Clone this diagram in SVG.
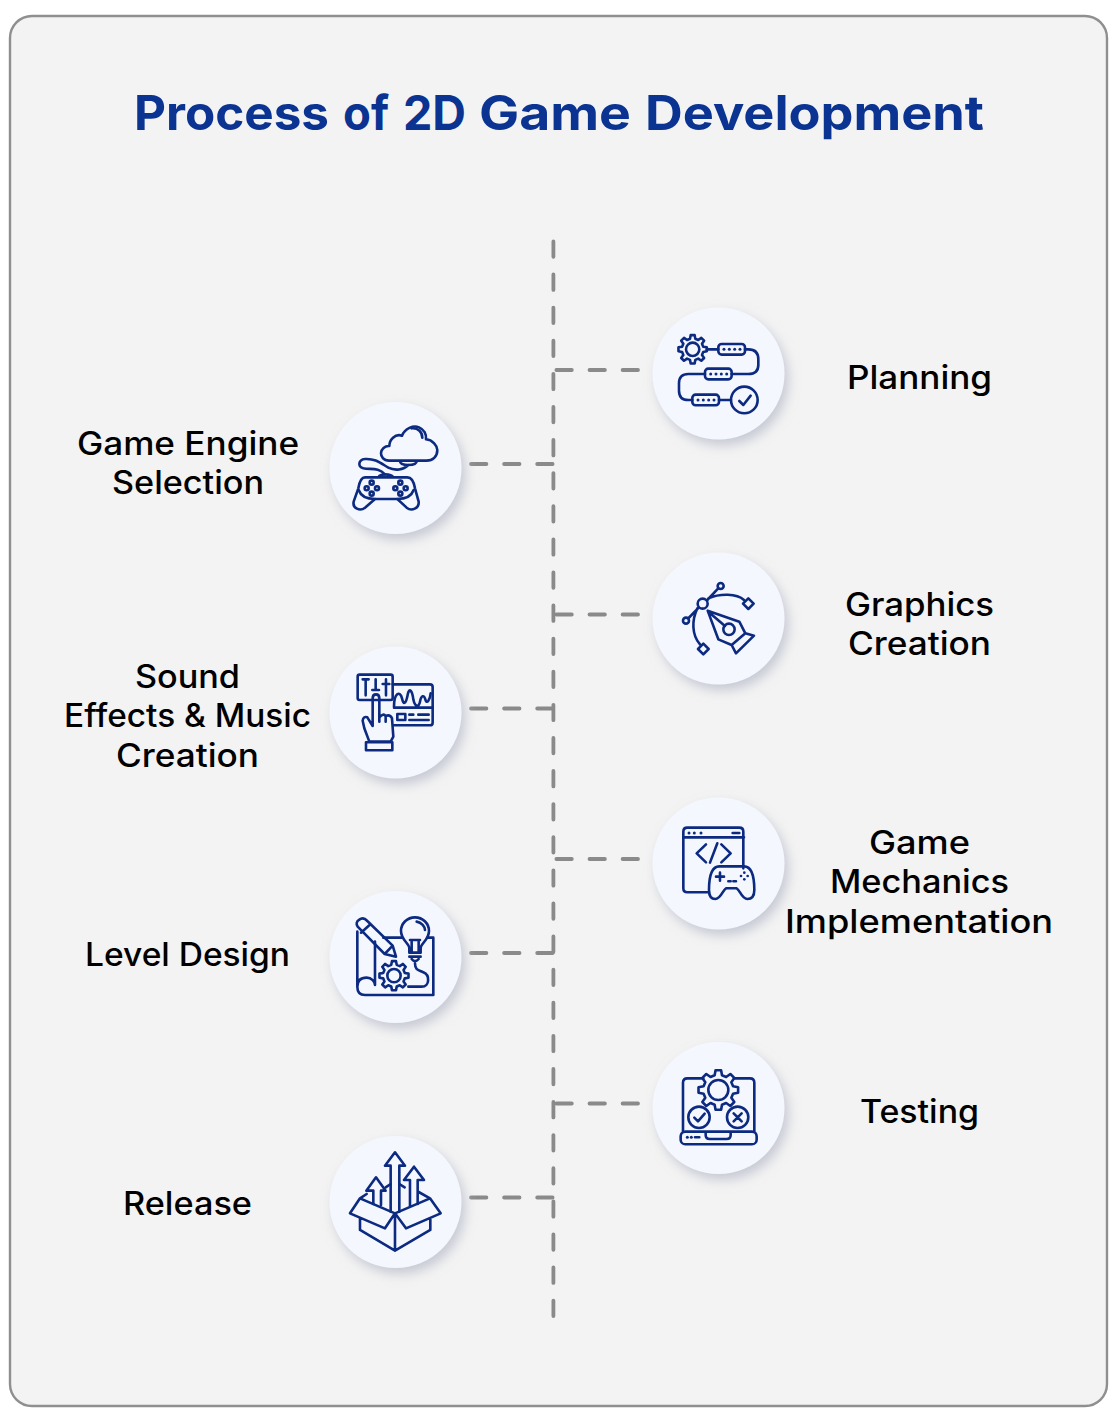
<svg xmlns="http://www.w3.org/2000/svg" width="1117" height="1421" viewBox="0 0 1117 1421">
<style>
.card{fill:#f3f3f3;stroke:#8f8f8f;stroke-width:2.4}
.title{font:700 48px Inter,"Liberation Sans",sans-serif;fill:#0b3391;text-anchor:start}
.lb{font:500 32px Inter,"Liberation Sans",sans-serif;fill:#000}
.disc{fill:#f5f7ff;filter:url(#sh)}
.ic{fill:none;stroke:#0b2a80;stroke-width:2.6;stroke-linecap:round;stroke-linejoin:round}
.ic *,.g{vector-effect:non-scaling-stroke}
.dot{fill:#0b2a80;stroke:none}
#connectors path{fill:none;stroke:#8a8a8a;stroke-width:3.8;stroke-linecap:round;stroke-dasharray:15.4 17.7}
</style>
<defs>
<filter id="sh" x="-20%" y="-20%" width="145%" height="145%"><feDropShadow dx="4" dy="6" stdDeviation="6" flood-color="#bfc2cf" flood-opacity=".85"/></filter>
<polygon id="gear" class="g" points="73.7,-18.4 99,-13.9 99,13.9 73.7,18.4 65.1,39.1 79.9,60.2 60.2,79.9 39.1,65.1 18.4,73.7 13.9,99 -13.9,99 -18.4,73.7 -39.1,65.1 -60.2,79.9 -79.9,60.2 -65.1,39.1 -73.7,18.4 -99,13.9 -99,-13.9 -73.7,-18.4 -65.1,-39.1 -79.9,-60.2 -60.2,-79.9 -39.1,-65.1 -18.4,-73.7 -13.9,-99 13.9,-99 18.4,-73.7 39.1,-65.1 60.2,-79.9 79.9,-60.2 65.1,-39.1"/>
</defs>
<rect class="card" x="10" y="16" width="1097" height="1390" rx="22"/>
<text class="title" y="129.500"><tspan x="134" textLength="195" lengthAdjust="spacingAndGlyphs">Process</tspan> <tspan x="343" textLength="46" lengthAdjust="spacingAndGlyphs">of</tspan> <tspan x="403" textLength="63" lengthAdjust="spacingAndGlyphs">2D</tspan> <tspan x="479" textLength="152" lengthAdjust="spacingAndGlyphs">Game</tspan> <tspan x="645" textLength="339" lengthAdjust="spacingAndGlyphs">Development</tspan></text>

<g id="connectors">
<path d="M553.400 1316V241"/>
<path d="M638 370H555"/>
<path d="M471 464H553"/>
<path d="M638 614.500H555"/>
<path d="M471 708.500H553"/>
<path d="M638 859H555"/>
<path d="M471 953H553"/>
<path d="M638 1103.500H555"/>
<path d="M471 1197.500H553"/>
</g>

<g id="planning">
<circle class="disc" cx="718.500" cy="373.500" r="66"/>
<g class="ic" transform="translate(640 300) scale(.3333)">
<use href="#gear" transform="translate(158 148) scale(.43)"/>
<circle cx="158" cy="148" r="20"/>
<rect x="235" y="132" width="80" height="32" rx="10"/><rect x="195" y="206" width="80" height="32" rx="10"/><rect x="157" y="284" width="80" height="32" rx="10"/>
<path d="M200 148H235M315 148H325Q355 148 355 178V195Q355 222 325 222H275M195 222H145Q117 222 117 250V272Q117 300 145 300H157M237 300H273"/>
<circle cx="313" cy="300" r="40"/><path d="M298 303L310 315L332 287"/>
<g class="dot"><circle cx="252" cy="148" r="4.500"/><circle cx="268" cy="148" r="4.500"/><circle cx="284" cy="148" r="4.500"/><circle cx="300" cy="148" r="4.500"/><circle cx="212" cy="222" r="4.500"/><circle cx="228" cy="222" r="4.500"/><circle cx="244" cy="222" r="4.500"/><circle cx="260" cy="222" r="4.500"/><circle cx="174" cy="300" r="4.500"/><circle cx="190" cy="300" r="4.500"/><circle cx="206" cy="300" r="4.500"/><circle cx="222" cy="300" r="4.500"/></g>
</g>
<text class="lb" x="847" y="388.500" textLength="145" lengthAdjust="spacingAndGlyphs">Planning</text>
</g>

<g id="engine">
<circle class="disc" cx="395.500" cy="468" r="66"/>
<g class="ic" transform="translate(320 395) scale(.3333)">
<path d="M207 197C190 197 183 185 183 175C183 162 195 152 208 153C208 135 225 115 246 122C255 100 280 90 297 97C312 103 320 118 318 133C338 135 352 152 352 165C352 185 338 197 320 197Z"/>
<path d="M275 100C295 98 307 112 307 128M240 199C240 208 250 210 265 210C278 210 290 208 290 199M265 210C250 225 225 228 205 218C180 203 165 190 135 192C115 194 112 215 130 220C150 225 175 215 195 238"/>
<path d="M175 247Q180 238 195 238Q215 238 220 247M135 247H262C275 247 282 262 285 280L296 320C298 340 275 350 260 338L232 312H165L135 338C120 350 97 340 101 320L115 280C118 262 125 247 135 247Z"/>
<path d="M116 285C122 302 140 312 165 312M281 285C275 302 257 312 232 312"/>
<circle cx="155" cy="263" r="6"/><circle cx="140" cy="280" r="6"/><circle cx="171" cy="280" r="6"/><circle cx="155" cy="296" r="6"/><circle cx="241" cy="263" r="6"/><circle cx="226" cy="280" r="6"/><circle cx="257" cy="280" r="6"/><circle cx="241" cy="296" r="6"/>
</g>
<text class="lb" x="77" y="455" textLength="222" lengthAdjust="spacingAndGlyphs">Game Engine</text>
<text class="lb" x="112" y="494" textLength="152" lengthAdjust="spacingAndGlyphs">Selection</text>
</g>

<g id="graphics">
<circle class="disc" cx="718.500" cy="618.500" r="66"/>
<g class="ic" transform="translate(640 545) scale(.3333)">
<circle cx="188" cy="176" r="15"/><circle cx="242" cy="123" r="9"/><circle cx="138" cy="227" r="9"/>
<path d="M202 165L234 131M176 188L146 219M205 160C240 145 290 145 312 165M172 190C155 225 155 270 180 298"/>
<path d="M325 160L341 176L325 192L309 176ZM190 296L206 312L190 328L174 312Z"/>
<path d="M203 197L298 230L316 265L275 300L235 283ZM316 265L342 272L288 325L275 300M205 200L255 243"/>
<circle cx="267" cy="253" r="17"/>
</g>
<text class="lb" x="845" y="616" textLength="149" lengthAdjust="spacingAndGlyphs">Graphics</text>
<text class="lb" x="848" y="655" textLength="143" lengthAdjust="spacingAndGlyphs">Creation</text>
</g>

<g id="sound">
<circle class="disc" cx="395.500" cy="712.500" r="66"/>
<g class="ic" transform="translate(320 640) scale(.3333)">
<rect x="113" y="104" width="105" height="76" rx="6"/>
<path d="M218 133H330Q338 133 338 141V248Q338 256 330 256H222M137 118V166M128 118H146M167 118V150M157 150H177M198 118V166M188 132H208"/>
<path d="M222 200C222 160 240 150 246 175C250 195 258 195 264 160C268 145 276 148 280 178C284 200 296 205 300 185C304 165 312 165 316 178C320 195 330 180 332 160M222 203H338M268 224H280M295 224H326M268 240H326"/>
<rect x="232" y="222" width="24" height="18"/>
<path d="M158 258V175Q158 163 168 163Q178 163 178 175V232Q190 218 197 228Q210 222 216 235L220 290L212 305H148L133 265L128 242Q130 228 142 232L158 258M178 232V245M197 228V245"/>
<rect x="138" y="307" width="79" height="24"/>
</g>
<text class="lb" x="135" y="688" textLength="105" lengthAdjust="spacingAndGlyphs">Sound</text>
<text class="lb" x="64" y="727" textLength="247" lengthAdjust="spacingAndGlyphs">Effects &amp; Music</text>
<text class="lb" x="116" y="767" textLength="143" lengthAdjust="spacingAndGlyphs">Creation</text>
</g>

<g id="mechanics">
<circle class="disc" cx="718.500" cy="863.500" r="66"/>
<g class="ic" transform="translate(640 790) scale(.3333)">
<path d="M310 235V125Q310 113 298 113H142Q130 113 130 125V295Q130 307 142 307H207M130 142H312M278 129H298M198 163L170 190L198 217M244 163L272 190L244 217M232 160L210 218"/>
<path d="M238 229H312C330 229 343 245 343 300C343 318 335 327 322 327C305 327 300 300 290 295H258C248 300 243 327 226 327C213 327 207 318 207 300C207 245 220 229 238 229Z"/>
<path d="M228 260H252M240 248V272M265 274H272M280 274H288"/>
<g class="dot"><circle cx="147" cy="129" r="4.500"/><circle cx="163" cy="129" r="4.500"/><circle cx="183" cy="129" r="4.500"/><circle cx="313" cy="248" r="4"/><circle cx="313" cy="268" r="4"/><circle cx="303" cy="258" r="4"/><circle cx="323" cy="258" r="4"/></g>
</g>
<text class="lb" x="869" y="854" textLength="101" lengthAdjust="spacingAndGlyphs">Game</text>
<text class="lb" x="830" y="893" textLength="179" lengthAdjust="spacingAndGlyphs">Mechanics</text>
<text class="lb" x="785" y="933" textLength="268" lengthAdjust="spacingAndGlyphs">Implementation</text>
</g>

<g id="level">
<circle class="disc" cx="395.500" cy="957" r="66"/>
<g class="ic" transform="translate(320 885) scale(.3333)">
<path d="M190 158H245M322 158H340V330H135Q112 330 112 305V140M165 170V300C165 290 155 278 140 278C125 278 112 285 112 305"/>
<path d="M113 125Q105 112 118 104Q130 95 142 108L218 182L228 215L194 207ZM123 143L152 117M194 207L218 182"/>
<path d="M268 203V190C268 175 243 165 243 138C243 115 262 97 285 97C308 97 327 115 327 138C327 165 302 175 302 190V203ZM268 215H302M275 222Q285 235 296 222M290 110C305 112 315 125 315 135M275 203V170M296 203V170M270 165H300"/>
<path d="M285 235C285 255 295 255 310 262C330 270 330 305 305 305H265"/>
<use href="#gear" transform="translate(222 272) scale(.44)"/><circle cx="222" cy="272" r="20"/>
</g>
<text class="lb" x="85" y="966" textLength="205" lengthAdjust="spacingAndGlyphs">Level Design</text>
</g>

<g id="testing">
<circle class="disc" cx="718.500" cy="1108" r="66"/>
<g class="ic" transform="translate(640 1035) scale(.3333)">
<path d="M190 130H142Q129 130 129 143V288M282 130H330Q343 130 343 143V288"/>
<rect x="122" y="290" width="228" height="38" rx="14"/>
<path d="M197 292V300Q197 312 209 312H260Q272 312 272 300V292M165 307H178"/>
<use href="#gear" transform="translate(235 165) scale(.6)"/><circle cx="235" cy="165" r="30"/>
<circle cx="177" cy="247" r="32"/><circle cx="293" cy="247" r="32"/>
<path d="M163 248L174 259L194 236M281 235L305 259M305 235L281 259"/>
<g class="dot"><circle cx="142" cy="307" r="4.500"/><circle cx="154" cy="307" r="4.500"/></g>
</g>
<text class="lb" x="860" y="1123" textLength="119" lengthAdjust="spacingAndGlyphs">Testing</text>
</g>

<g id="release">
<circle class="disc" cx="395.500" cy="1202" r="66"/>
<g class="ic" transform="translate(320 1130) scale(.3333)">
<path d="M212 245V107H195L225 67L255 107H238V245M160 222V182H139L168 142L197 182H183V225M270 228V150H252L282 110L312 150H293V222"/>
<path d="M120 205L225 250L195 295L90 250ZM330 205L225 250L258 295L362 250ZM120 265V300L225 362L331 300V265M225 250V362M120 205L140 192M197 172L212 162M238 162L254 172M296 186L330 205"/>
</g>
<text class="lb" x="123" y="1215" textLength="129" lengthAdjust="spacingAndGlyphs">Release</text>
</g>
</svg>
